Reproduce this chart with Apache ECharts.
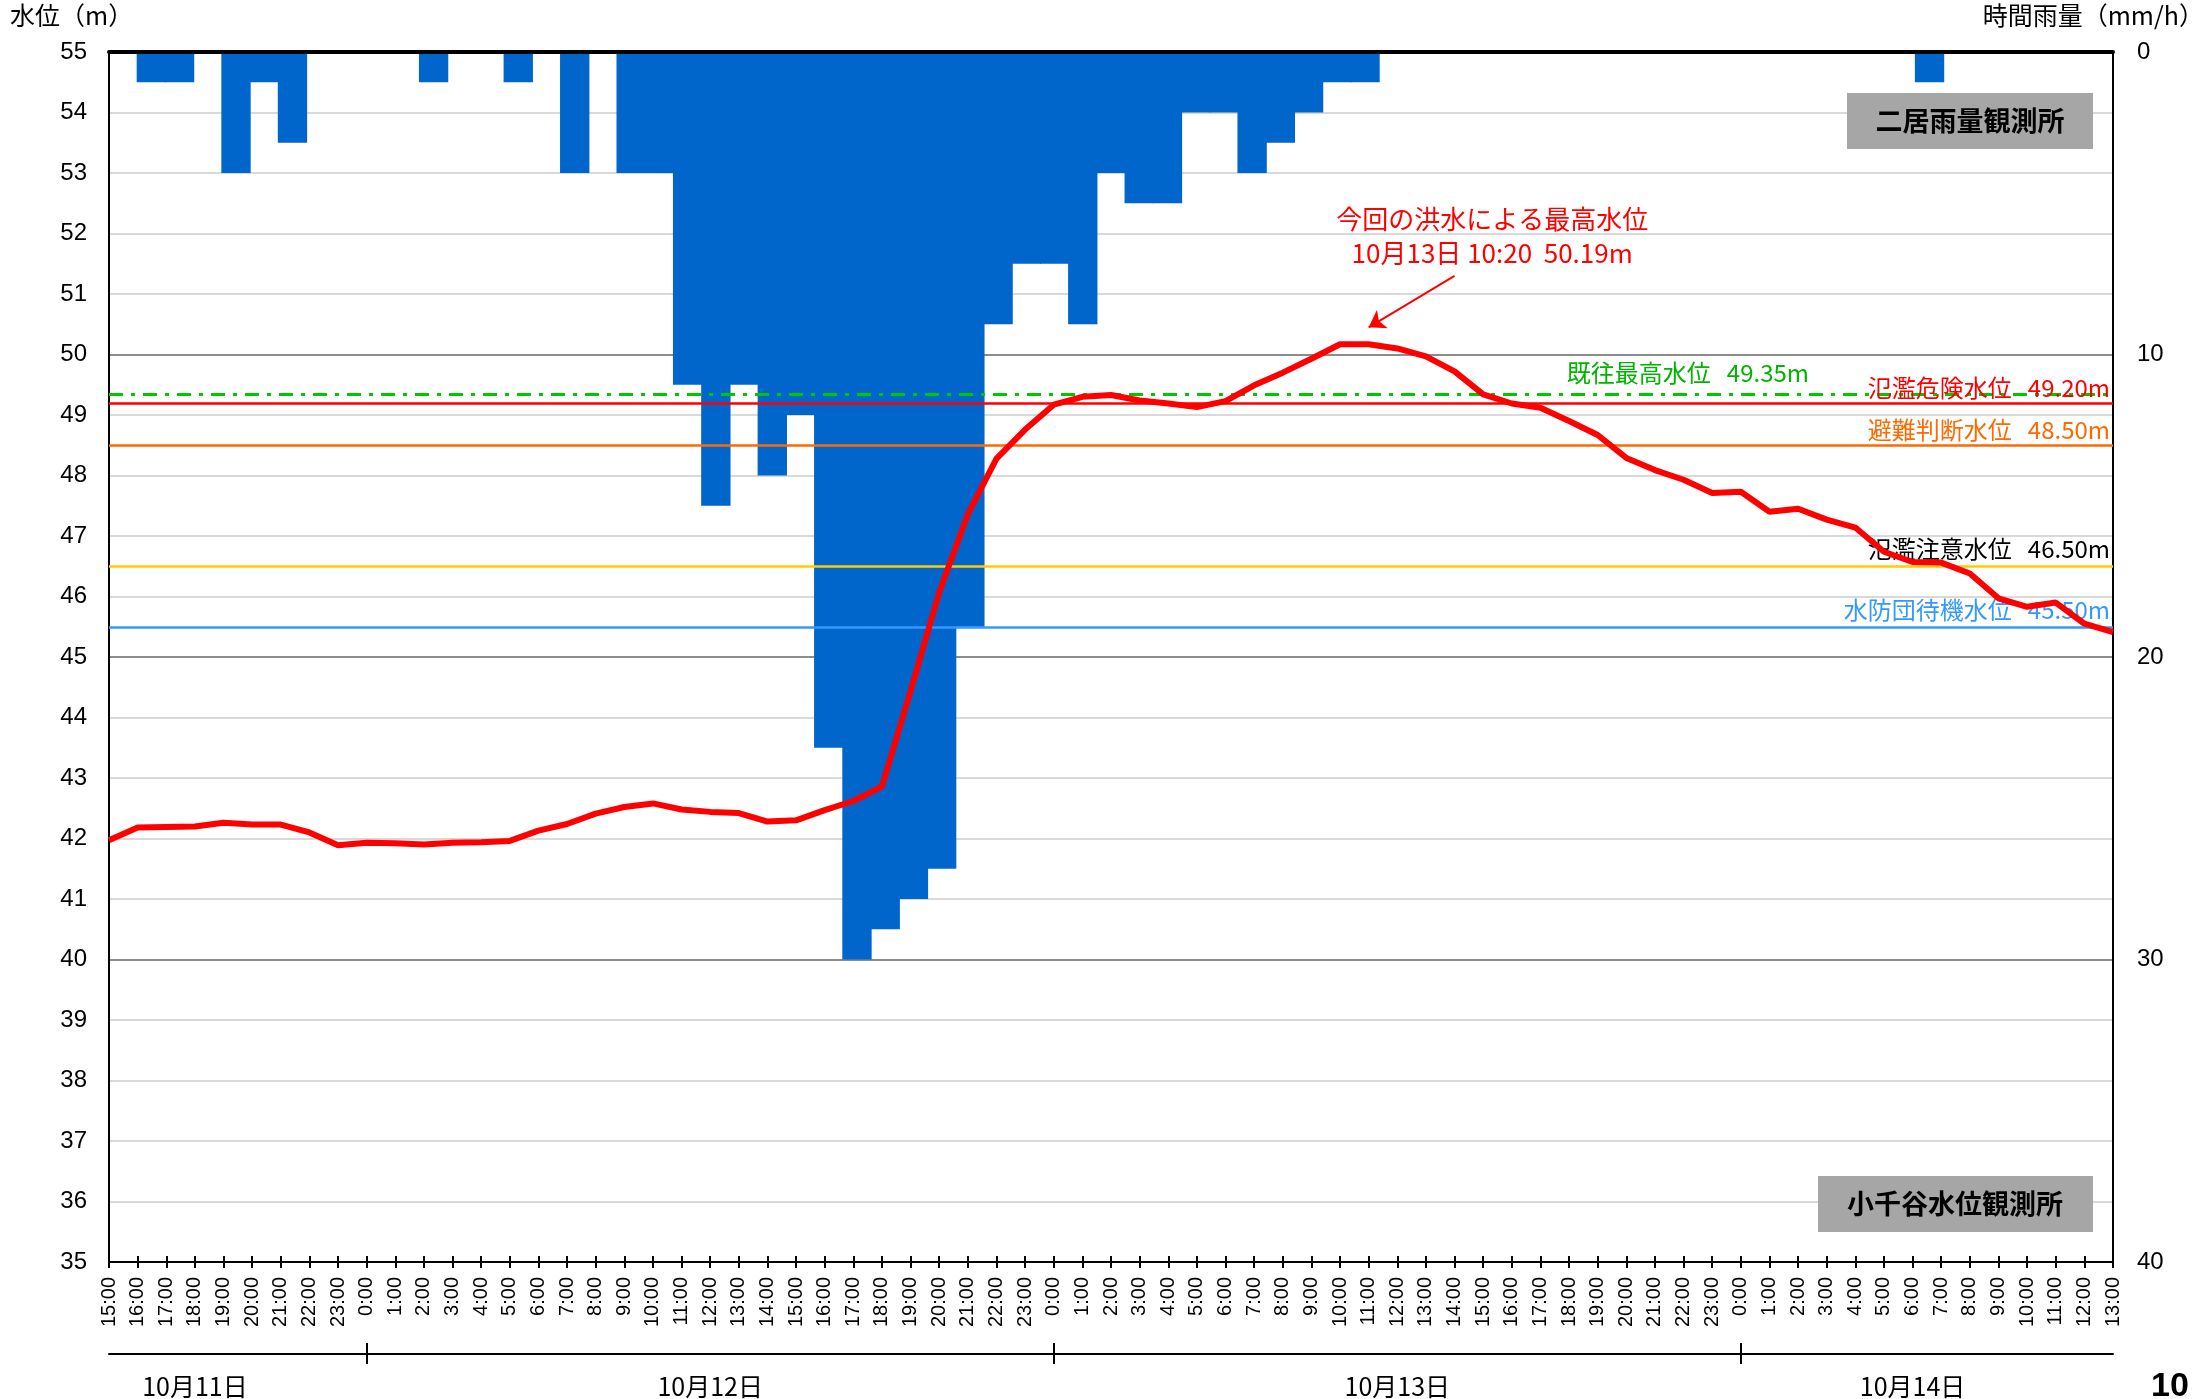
<!DOCTYPE html>
<html>
<head>
<meta charset="utf-8">
<script src="https://cdn.jsdelivr.net/npm/echarts@6/dist/echarts.min.js"></script>
<style>
  html, body { margin: 0; padding: 0; background: #fff; }
  #chart { width: 2206px; height: 1399px; }
</style>
</head>
<body>
<div id="chart"></div>
<script>
// 時刻 (10/11 15:00 〜 10/14 13:00、1時間ごと)
var hours = [
  '15:00','16:00','17:00','18:00','19:00','20:00','21:00','22:00','23:00',
  '0:00','1:00','2:00','3:00','4:00','5:00','6:00','7:00','8:00','9:00','10:00','11:00',
  '12:00','13:00','14:00','15:00','16:00','17:00','18:00','19:00','20:00','21:00','22:00','23:00',
  '0:00','1:00','2:00','3:00','4:00','5:00','6:00','7:00','8:00','9:00','10:00','11:00',
  '12:00','13:00','14:00','15:00','16:00','17:00','18:00','19:00','20:00','21:00','22:00','23:00',
  '0:00','1:00','2:00','3:00','4:00','5:00','6:00','7:00','8:00','9:00','10:00','11:00',
  '12:00','13:00'
];
var dates = ['10月11日', '10月12日', '10月13日', '10月14日'];
var dateLabelAt = [3, 21, 45, 63];

// 小千谷水位観測所 水位(m)
var waterLevel = [
  41.97, 42.18, 42.19, 42.20, 42.26, 42.23, 42.23, 42.10, 41.89,
  41.93, 41.92, 41.90, 41.93, 41.94, 41.96, 42.13, 42.24, 42.41, 42.52, 42.58, 42.48,
  42.44, 42.42, 42.28, 42.30, 42.47, 42.62, 42.86, 44.44, 46.07, 47.36, 48.28, 48.76,
  49.17, 49.30, 49.33, 49.24, 49.19, 49.13, 49.23, 49.49, 49.70, 49.93, 50.17, 50.17,
  50.10, 49.97, 49.72, 49.34, 49.19, 49.12, 48.90, 48.67, 48.29, 48.09, 47.93, 47.71,
  47.73, 47.40, 47.45, 47.27, 47.14, 46.74, 46.57, 46.56, 46.38, 45.97, 45.83, 45.90,
  45.55, 45.41
];

// 二居雨量観測所 時間雨量(mm/h)
var rainfall = [
  0, 1, 1, 0, 4, 1, 3, 0, 0,
  0, 0, 1, 0, 0, 1, 0, 4, 0, 4, 4, 11,
  15, 11, 14, 12, 23, 30, 29, 28, 27, 19, 9, 7,
  7, 9, 4, 5, 5, 2, 2, 4, 3, 2, 1, 1,
  0, 0, 0, 0, 0, 0, 0, 0, 0, 0, 0, 0,
  0, 0, 0, 0, 0, 0, 0, 1, 0, 0, 0, 0,
  0, 0
];

// 基準水位
var refNames = ['既往最高水位', '氾濫危険水位', '避難判断水位', '氾濫注意水位', '水防団待機水位'];
var refValues = [49.35, 49.20, 48.50, 46.50, 45.50];

var peakText = ['今回の洪水による最高水位', '10月13日 10:20  50.19m'];
var stationRain = '二居雨量観測所';
var stationLevel = '小千谷水位観測所';

var FONT_JP = '"Noto Sans CJK JP", sans-serif';
var FONT_NUM = '"Liberation Sans", Arial, sans-serif';

var dayStart = [];
hours.forEach(function (h, i) { if (h === '0:00') dayStart.push(i); });

var refStyle = [
  { line: '#00C800', text: '#00B400', type: [14, 8, 4, 8], width: 3, dist: [304, 9] },
  { line: '#FF0000', text: '#FF0000', type: 'solid', width: 2.5, dist: [3, 3] },
  { line: '#FF6A00', text: '#FF6A00', type: 'solid', width: 2.5, dist: [3, 3] },
  { line: '#FFCC00', text: '#000000', type: 'solid', width: 2.5, dist: [3, 5] },
  { line: '#3399FF', text: '#3399FF', type: 'solid', width: 2.5, dist: [3, 5] }
];

var refMarks = refValues.map(function (v, k) {
  var s = refStyle[k];
  return {
    yAxis: v,
    lineStyle: { color: s.line, type: s.type, width: s.width },
    label: {
      show: true,
      position: 'insideEndTop',
      distance: s.dist,
      formatter: refNames[k] + '   ' + v.toFixed(2) + 'm',
      color: s.text,
      fontSize: 24,
      fontFamily: FONT_JP
    }
  };
});

var gridBox = { left: 109, right: 93 };
var black = { color: '#000', width: 2 };

var chart = echarts.init(document.getElementById('chart'));
chart.setOption({
  animation: false,
  backgroundColor: '#fff',
  grid: [
    { left: gridBox.left, right: gridBox.right, top: 52, bottom: 137 },
    { left: gridBox.left, right: gridBox.right, top: 1256, height: 12 },
    { left: gridBox.left, right: gridBox.right, top: 1343, height: 30 }
  ],
  xAxis: [
    {
      gridIndex: 0, type: 'category', data: hours, boundaryGap: false, position: 'bottom',
      axisLine: { onZero: false, lineStyle: black },
      axisTick: { show: false },
      axisLabel: { interval: 0, rotate: 90, margin: 15, fontSize: 20, fontFamily: FONT_NUM, color: '#000' },
      splitLine: { show: false }
    },
    {
      gridIndex: 0, type: 'category', data: hours, boundaryGap: true, position: 'top', z: 10,
      axisLine: { onZero: false, lineStyle: { color: '#000', width: 4 } },
      axisTick: { show: false }, axisLabel: { show: false }, splitLine: { show: false }
    },
    {
      gridIndex: 1, type: 'category', data: hours, boundaryGap: false,
      axisLine: { show: false }, axisTick: { show: false }, axisLabel: { show: false },
      splitLine: { show: true, interval: 0, lineStyle: black }
    },
    {
      gridIndex: 2, type: 'category', data: hours, boundaryGap: false, position: 'bottom',
      axisLine: { onZero: true, lineStyle: black },
      axisTick: { show: false },
      axisLabel: {
        interval: function (i) { return dateLabelAt.indexOf(i) >= 0; },
        formatter: function (v, i) { return dates[dateLabelAt.indexOf(i)]; },
        margin: 10, fontSize: 25, fontFamily: FONT_JP, color: '#000'
      },
      splitLine: {
        show: true,
        interval: function (i) { return dayStart.indexOf(i) >= 0; },
        lineStyle: black
      }
    }
  ],
  yAxis: [
    {
      gridIndex: 0, type: 'value', min: 35, max: 55, interval: 1, position: 'left',
      axisLine: { show: true, lineStyle: black },
      axisTick: { show: false },
      axisLabel: { margin: 22, fontSize: 24, fontFamily: FONT_NUM, color: '#000' },
      splitLine: { show: true, lineStyle: { color: ['#8c8c8c', '#d9d9d9', '#d9d9d9', '#d9d9d9', '#d9d9d9'], width: 2 } }
    },
    {
      gridIndex: 0, type: 'value', min: 0, max: 40, interval: 10, position: 'right', inverse: true,
      axisLine: { show: true, lineStyle: black },
      axisTick: { show: false },
      axisLabel: { margin: 24, fontSize: 24, fontFamily: FONT_NUM, color: '#000' },
      splitLine: { show: false }
    },
    { gridIndex: 1, type: 'value', min: -1, max: 1, show: false },
    { gridIndex: 2, type: 'value', min: -1, max: 1, show: false }
  ],
  series: [
    {
      name: '時間雨量', type: 'bar', xAxisIndex: 1, yAxisIndex: 1, data: rainfall,
      barWidth: '104%', z: 2,
      itemStyle: { color: '#0066CC' }
    },
    {
      name: '基準水位', type: 'line', xAxisIndex: 0, yAxisIndex: 0, data: [], z: 3,
      markLine: { silent: true, symbol: ['none', 'none'], data: refMarks }
    },
    {
      name: '水位', type: 'line', xAxisIndex: 0, yAxisIndex: 0, data: waterLevel, z: 5,
      showSymbol: false, symbol: 'none',
      lineStyle: { color: '#FF0000', width: 6 },
      markLine: {
        silent: true, symbol: ['none', 'arrow'], symbolSize: 16,
        lineStyle: { color: '#FF0000', width: 2, type: 'solid' },
        label: { show: false },
        data: [[{ coord: [47, 51.3] }, { coord: [44, 50.45] }]]
      },
      markPoint: {
        silent: true, symbol: 'circle', symbolSize: 1,
        itemStyle: { color: 'rgba(0,0,0,0)' },
        data: [{
          coord: [48, 51.96],
          label: {
            show: true, position: 'inside', offset: [9, 0],
            formatter: peakText.join('\n'), lineHeight: 34,
            color: '#FF0000', fontSize: 26, fontFamily: FONT_JP
          }
        }]
      }
    }
  ],
  graphic: [
    { type: 'text', left: 10, top: 3, z: 100, style: { text: '水位（m）', font: '25px ' + FONT_JP, fill: '#000' } },
    { type: 'text', right: 2, top: 3, z: 100, style: { text: '時間雨量（mm/h）', font: '25px ' + FONT_JP, fill: '#000' } },
    {
      type: 'group', right: 113, top: 93, z: 100,
      children: [
        { type: 'rect', z: 100, shape: { x: 0, y: 0, width: 246, height: 56 }, style: { fill: '#A6A6A6' } },
        { type: 'text', z: 101, x: 123, y: 28, style: { text: stationRain, font: 'bold 27px ' + FONT_JP, fill: '#000', align: 'center', verticalAlign: 'middle', textAlign: 'center', textVerticalAlign: 'middle' } }
      ]
    },
    {
      type: 'group', right: 113, top: 1176, z: 100,
      children: [
        { type: 'rect', z: 100, shape: { x: 0, y: 0, width: 275, height: 56 }, style: { fill: '#A6A6A6' } },
        { type: 'text', z: 101, x: 137, y: 28, style: { text: stationLevel, font: 'bold 27px ' + FONT_JP, fill: '#000', align: 'center', verticalAlign: 'middle', textAlign: 'center', textVerticalAlign: 'middle' } }
      ]
    },
    { type: 'text', left: 2151, top: 1370, z: 100, style: { text: '10', font: 'bold 34px ' + FONT_NUM, fill: '#000' } }
  ]
});
</script>
</body>
</html>
